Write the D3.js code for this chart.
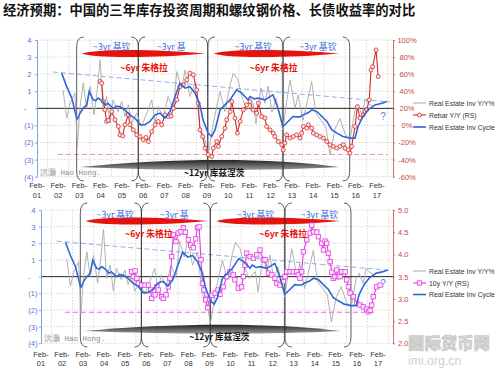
<!DOCTYPE html>
<html><head><meta charset="utf-8">
<script src="https://cdn.jsdelivr.net/npm/d3@7"></script>
<style>
body{margin:0;background:#fff;}
svg{display:block;}
</style></head><body>
<svg id="c" width="500" height="369"></svg>
<script>
const title = "经济预期：中国的三年库存投资周期和螺纹钢价格、长债收益率的对比";
const tickYears = d3.range(2001, 2018);
const yearLabels = tickYears.map(y => String(y).slice(2));
const leftTicks = [-4,-3,-2,-1,0,1,2,3,4];
const seriesNames = ["Real Estate Inv Y/Y%", "Real Estate Inv Cycle"];

// Real Estate Inv Cycle (blue) [year, value]
const invCycle = [[2002.245,2.06],[2002.48,1.27],[2002.72,0.6],[2002.95,-0.57],[2002.99,-0.62],[2003.1,-0.3],[2003.26,0.0],[2003.42,0.2],[2003.54,0.98],[2003.73,0.5],[2003.85,0.45],[2003.97,0.6],[2004.19,0.4],[2004.3,0.2],[2004.42,0.3],[2004.66,0.0],[2004.82,0.12],[2004.99,0.1],[2005.22,-0.1],[2005.46,-0.4],[2005.69,-0.57],[2005.93,-0.96],[2006.16,-0.96],[2006.4,-0.77],[2006.64,-0.38],[2006.87,-0.28],[2007.11,-0.57],[2007.34,-0.19],[2007.58,0.69],[2007.81,1.47],[2008.05,1.18],[2008.28,1.27],[2008.52,0.89],[2008.75,0.2],[2008.895,-0.67],[2009.13,-1.45],[2009.305,-1.65],[2009.46,-1.26],[2009.7,-0.09],[2009.93,0.2],[2010.17,0.5],[2010.48,1.08],[2010.72,0.89],[2011.01,0.5],[2011.11,0.69],[2011.3,0.55],[2011.48,0.6],[2011.81,0.5],[2012.05,0.69],[2012.19,0.79],[2012.42,0.0],[2012.66,-1.06],[2012.9,-0.77],[2013.13,-0.48],[2013.3,-0.5],[2013.46,-0.5],[2013.6,-0.38],[2013.84,-0.26],[2014.02,-0.09],[2014.26,-0.19],[2014.49,-0.48],[2014.73,-0.77],[2014.96,-1.26],[2015.2,-1.45],[2015.48,-1.65],[2015.81,-1.74],[2016.05,-1.74],[2016.19,-1.06],[2016.42,-0.48],[2016.66,-0.09],[2016.99,0.2],[2017.32,0.3],[2017.55,0.4]];

// Real Estate Inv Y/Y% (grey)
const invYoY = [[2002.31,1.08],[2002.48,-0.57],[2002.64,0.3],[2002.87,0.89],[2002.98,-2.23],[2003.11,0.1],[2003.26,1.47],[2003.42,0.0],[2003.58,1.27],[2003.77,-0.38],[2003.92,1.08],[2004.05,2.84],[2004.2,-0.1],[2004.36,0.69],[2004.52,-0.87],[2004.66,0.5],[2004.9,-0.19],[2005.07,0.4],[2005.22,-0.48],[2005.38,0.2],[2005.54,-0.87],[2005.77,-0.28],[2006.01,-1.06],[2006.25,-0.28],[2006.48,0.5],[2006.64,-0.87],[2006.79,0.1],[2007.03,-0.57],[2007.25,0.69],[2007.5,-0.09],[2007.66,2.15],[2007.89,1.18],[2008.05,2.25],[2008.28,0.69],[2008.52,1.47],[2008.75,-1.06],[2008.99,-1.84],[2009.13,-2.8],[2009.38,-0.87],[2009.54,0.1],[2009.7,0.98],[2009.93,-0.19],[2010.17,1.37],[2010.32,2.05],[2010.54,1.67],[2010.72,0.69],[2010.95,-0.09],[2011.26,0.3],[2011.39,-0.9],[2011.62,1.2],[2011.81,0.3],[2011.95,1.3],[2012.14,-0.2],[2012.33,0.6],[2012.66,-1.26],[2012.83,0.4],[2012.99,1.67],[2013.23,0.0],[2013.37,0.79],[2013.6,-0.7],[2013.84,0.6],[2014.01,1.57],[2014.21,-0.3],[2014.45,-0.7],[2014.68,-1.1],[2014.87,-2.72],[2015.11,-1.2],[2015.34,-0.6],[2015.58,-1.5],[2015.81,-1.84],[2016.05,-0.09],[2016.19,0.2],[2016.38,-0.4],[2016.52,0.5],[2016.66,0.3],[2016.89,0.1]];

// Rebar Y/Y % (RS, top panel)
const rebarYoY = [[2004.05,51.4],[2004.13,49.4],[2004.2,28],[2004.28,18.2],[2004.36,4.6],[2004.44,6],[2004.6,16.2],[2004.75,6.6],[2004.91,-1.2],[2004.99,-11],[2005.12,-12.2],[2005.22,0.8],[2005.38,12.4],[2005.46,0.8],[2005.615,-5.2],[2005.775,-11],[2005.93,-13],[2006.085,-16.8],[2006.21,-14],[2006.32,-18.8],[2006.48,-7.2],[2006.64,0.8],[2006.79,4.6],[2006.95,0.8],[2007.11,12.4],[2007.26,10.4],[2007.39,11],[2007.5,20],[2007.66,30],[2007.81,45.4],[2007.97,47.4],[2008.13,53.4],[2008.28,61.2],[2008.44,59.2],[2008.6,41.6],[2008.67,26],[2008.75,-5.2],[2008.88,-13],[2008.99,-26.6],[2009.14,-34.4],[2009.305,-36.4],[2009.38,-26.6],[2009.54,-18.8],[2009.615,-24.6],[2009.775,-13],[2009.93,-3.2],[2010.01,6.6],[2010.17,16.2],[2010.25,28],[2010.4,8.6],[2010.51,-9],[2010.64,4.6],[2010.79,18.2],[2010.95,24],[2011.11,28],[2011.25,18],[2011.42,14.4],[2011.5,26],[2011.66,10.4],[2011.81,8.6],[2011.89,-1.2],[2012.05,-5.2],[2012.2,-9],[2012.28,-13],[2012.44,-18.8],[2012.6,-22.6],[2012.67,-28.6],[2012.75,-20.6],[2012.83,-11],[2012.99,-14.8],[2013.14,-13],[2013.3,-11],[2013.46,-14.8],[2013.54,-9],[2013.62,-1.2],[2013.775,-3.2],[2013.85,0.8],[2014.01,-3.2],[2014.09,-9],[2014.245,-11],[2014.4,-13],[2014.56,-14.8],[2014.72,-18.8],[2014.87,-22.6],[2015.03,-24.6],[2015.19,-26.6],[2015.34,-24.6],[2015.5,-22.6],[2015.58,-26.6],[2015.73,-28.6],[2015.81,-32.4],[2015.89,-24.6],[2016.05,-1.2],[2016.16,22],[2016.28,8.6],[2016.44,12.4],[2016.52,16.2],[2016.6,18.2],[2016.72,30],[2016.8,65],[2016.88,68.8],[2017.04,88.4],[2017.14,57.2]];

// 10y yield (RS, bottom panel)
const yield10y = [[2005.39,3.61],[2005.47,3.5],[2005.55,3.63],[2005.63,3.46],[2005.7,3.35],[2005.865,3.31],[2006.02,3.31],[2006.18,3.31],[2006.29,3.2],[2006.34,3.01],[2006.5,3.09],[2006.58,3.27],[2006.65,3.2],[2006.815,3.05],[2006.89,3.01],[2007.02,3.09],[2007.13,3.27],[2007.21,3.46],[2007.29,3.95],[2007.365,4.44],[2007.49,4.29],[2007.6,4.48],[2007.73,4.51],[2007.84,4.6],[2007.94,4.5],[2008.08,4.33],[2008.19,4.21],[2008.315,4.15],[2008.42,4.35],[2008.51,4.6],[2008.59,4.62],[2008.68,3.88],[2008.75,3.35],[2008.82,3.2],[2008.9,2.98],[2008.99,2.8],[2009.08,3.0],[2009.2,3.08],[2009.35,3.13],[2009.49,3.2],[2009.58,3.1],[2009.74,3.27],[2009.9,3.5],[2010.06,3.61],[2010.21,3.54],[2010.29,3.43],[2010.45,3.24],[2010.61,3.27],[2010.69,3.5],[2010.77,3.76],[2010.85,4.03],[2011.01,3.95],[2011.165,3.91],[2011.33,3.99],[2011.48,4.1],[2011.64,3.88],[2011.72,3.88],[2011.875,3.58],[2012.04,3.54],[2012.19,3.46],[2012.28,3.35],[2012.43,3.31],[2012.59,3.39],[2012.67,3.5],[2012.75,3.61],[2012.91,3.61],[2013.06,3.61],[2013.225,3.61],[2013.3,3.54],[2013.38,3.46],[2013.46,3.61],[2013.54,4.06],[2013.7,4.33],[2013.855,4.48],[2013.94,4.66],[2014.02,4.51],[2014.18,4.5],[2014.25,4.4],[2014.41,4.25],[2014.49,4.1],[2014.57,4.3],[2014.65,4.25],[2014.73,4.03],[2014.81,3.84],[2014.89,3.6],[2014.96,3.46],[2015.04,3.5],[2015.12,3.65],[2015.2,3.5],[2015.28,3.5],[2015.36,3.61],[2015.52,3.61],[2015.6,3.43],[2015.68,3.27],[2015.76,3.13],[2015.91,3.05],[2016.07,2.9],[2016.23,2.86],[2016.39,2.82],[2016.55,2.77],[2016.63,2.71],[2016.71,2.74],[2016.785,2.86],[2016.86,3.05],[2017.02,3.27],[2017.18,3.31]];

// reference lines
const trendLine = [[2001.83,2.13],[2017.7,0.37]];
const rebarFloor = [[2002.07,-34],[2017.6,-34]];
const yieldFloor = [[2002.22,2.7],[2017.04,2.7]];

// cycle annotations (years)
const bracketYears = [2002.95, 2005.85, 2009.12, 2012.66, 2015.8];
const kitchinStarts = [2003.72, 2006.73, 2010.38, 2013.42];
const kitchinLabels = ["~3yr 基钦", "~3yr 基", "~3yr 基钦", "~3yr 基钦"];
const juglarSpans = [[2003.2, 2009.0], [2009.4, 2015.3]];
const kuznetsSpan = [2003.1, 2015.3];

const svg = d3.select("#c");
const LAT = '"Liberation Sans", Arial, sans-serif';
const CJK = '"Noto Sans CJK SC", sans-serif';

const defs = svg.append("defs");
const grad = defs.append("linearGradient").attr("id","gl").attr("x1",0).attr("y1",0).attr("x2",0).attr("y2",1);
grad.append("stop").attr("offset","0%").attr("stop-color","#222");
grad.append("stop").attr("offset","100%").attr("stop-color","#9a9a9a");

svg.append("text").attr("x",3).attr("y",15).attr("font-family",CJK).attr("font-weight",700)
  .attr("font-size",13.3).attr("fill","#111").text(title);

const panels = [
 {l:37, r:393, t:40, b:176.7, xr:[37,377], rDom:[-60,100], rTicks:d3.range(-60,101,20), rFmt:d=>d+"%", rAnchor:"middle", rDx:12,
  data:rebarYoY, color:"#d42a2a", marker:"circle", floor:rebarFloor, floorColor:"#e59a9a", febY:188, yrY:198,
  legY:[103,115,127], legLabel:"Rebar Y/Y (RS)", juglarX:[2005.0, 2011.1], juglarY:71, kitY:50, lensY:53.5,
  grayY:167, grayUp:9.5, grayDn:4, kzY:176, brT:37, brB:181, qY:120, authY:175, kzX:2009.42},
 {l:41, r:393, t:210, b:343.3, xr:[41,378], rDom:[2,5], rTicks:[2,2.5,3,3.5,4,4.5,5], rFmt:d3.format(".1f"), rAnchor:"start", rDx:3,
  data:yield10y, color:"#e03ee0", marker:"square", floor:yieldFloor, floorColor:"#e56ae5", febY:357, yrY:366,
  legY:[271,283,294.5], legLabel:"10y Y/Y (RS)", juglarX:[2005.07, 2011.45], juglarY:237, kitY:217.5, lensY:221,
  grayY:331, grayUp:8.5, grayDn:3.5, kzY:340, brT:203, brB:347, qY:287, authY:341, kzX:2009.55}
];

panels.forEach(p => {
  const g = svg.append("g");
  const x = d3.scaleLinear().domain([2001+1/12, 2017+1/12]).range(p.xr);
  const yL = d3.scaleLinear().domain([-4,4]).range([p.b, p.t]);
  const yR = d3.scaleLinear().domain(p.rDom).range([p.b, p.t]);

  // grid
  g.selectAll(".hg").data(leftTicks.filter(d=>d!==0)).join("line")
    .attr("x1",p.l).attr("x2",p.r).attr("y1",d=>yL(d)).attr("y2",d=>yL(d))
    .attr("stroke","#c8c8c8").attr("stroke-width",0.7).attr("stroke-dasharray","1.5,1.5");
  g.selectAll(".vg").data(tickYears.map(y=>y+1/12+0.5)).join("line")
    .attr("x1",d=>x(d)).attr("x2",d=>x(d)).attr("y1",p.t).attr("y2",p.b)
    .attr("stroke","#c8c8c8").attr("stroke-width",0.7).attr("stroke-dasharray","1.5,1.5");

  // gray Kuznets lens
  const gx0 = x(kuznetsSpan[0]), gx1 = x(kuznetsSpan[1]), gw = gx1-gx0;
  g.append("path").attr("d",`M${gx0},${p.grayY} C${gx0+gw*0.35},${p.grayY-p.grayUp} ${gx0+gw*0.75},${p.grayY-p.grayUp} ${gx1},${p.grayY} C${gx0+gw*0.75},${p.grayY+p.grayDn} ${gx0+gw*0.35},${p.grayY+p.grayDn} ${gx0},${p.grayY}Z`)
    .attr("fill","url(#gl)");

  // red Juglar lenses
  juglarSpans.forEach(s => {
    const a = x(s[0]), b = x(s[1]), w = b-a, h = 4.8;
    g.append("path").attr("d",`M${a},${p.lensY} C${a+w*0.1},${p.lensY-h} ${a+w*0.6},${p.lensY-h} ${b},${p.lensY} C${a+w*0.6},${p.lensY+h} ${a+w*0.1},${p.lensY+h} ${a},${p.lensY}Z`)
      .attr("fill","#e8120c");
  });

  // zero line
  g.append("line").attr("x1",p.l).attr("x2",p.r).attr("y1",yL(0)).attr("y2",yL(0)).attr("stroke","#222").attr("stroke-width",1);

  // reference dashed lines
  const lineL = d3.line().x(d=>x(d[0])).y(d=>yL(d[1]));
  const lineR = d3.line().x(d=>x(d[0])).y(d=>yR(d[1]));
  g.append("path").attr("d",lineL(trendLine)).attr("fill","none").attr("stroke","#8fb0ea").attr("stroke-width",1).attr("stroke-dasharray","5,3");
  g.append("path").attr("d",lineR(p.floor)).attr("fill","none").attr("stroke",p.floorColor).attr("stroke-width",1.1).attr("stroke-dasharray","5,3");

  // brackets
  for (let i=0;i<bracketYears.length-1;i++){
    const a = x(bracketYears[i]), b = x(bracketYears[i+1]), r = 7, vy = 10;
    const d = `M${a+r},${p.brT} Q${a},${p.brT} ${a},${p.brT+vy} L${a},${p.brB-vy} Q${a},${p.brB} ${a+r},${p.brB}` +
              ` M${b-r},${p.brT} Q${b},${p.brT} ${b},${p.brT+vy} L${b},${p.brB-vy} Q${b},${p.brB} ${b-r},${p.brB}`;
    g.append("path").attr("d",d).attr("fill","none").attr("stroke","#333").attr("stroke-width",0.8);
  }

  // series
  g.append("path").attr("d",lineL(invYoY)).attr("fill","none").attr("stroke","#a9a9a9").attr("stroke-width",0.9);
  g.append("path").attr("d",lineR(p.data)).attr("fill","none").attr("stroke",p.color).attr("stroke-width",1.1);
  if (p.marker==="circle") {
    g.selectAll(".mk").data(p.data).join("circle").attr("cx",d=>x(d[0])).attr("cy",d=>yR(d[1])).attr("r",2)
      .attr("fill","#fbe3e3").attr("stroke",p.color).attr("stroke-width",0.8);
  } else {
    g.selectAll(".mk").data(p.data).join("rect").attr("x",d=>x(d[0])-2.2).attr("y",d=>yR(d[1])-2.2).attr("width",4.4).attr("height",4.4)
      .attr("fill","#fde8fd").attr("stroke",p.color).attr("stroke-width",0.8);
  }
  g.append("path").attr("d",lineL(invCycle)).attr("fill","none").attr("stroke","#2f66d6").attr("stroke-width",1.6);

  // annotation texts
  kitchinStarts.forEach((s,i) => {
    g.append("text").attr("x",x(s)).attr("y",p.kitY).attr("font-family",CJK).attr("font-size",8.8).attr("fill","#3a6ad8").text(kitchinLabels[i]);
  });
  p.juglarX.forEach(s => {
    g.append("text").attr("x",x(s)).attr("y",p.juglarY).attr("font-family",CJK).attr("font-weight",700).attr("font-size",8.8).attr("fill","#e8120c").text("~6yr 朱格拉");
  });
  g.append("text").attr("x",x(p.kzX)).attr("y",p.kzY).attr("text-anchor","middle").attr("font-family",CJK).attr("font-weight",700).attr("font-size",8.6).attr("fill","#111").text("~12yr 库兹涅茨");
  g.append("text").attr("x",p.l+3).attr("y",p.authY).attr("font-family",'"Liberation Mono", monospace').attr("font-size",7.5).attr("fill","#8a8a8a").text("洪灏 Hao Hong.");
  g.append("text").attr("x",383).attr("y",p.qY).attr("text-anchor","middle").attr("font-family",LAT).attr("font-size",10).attr("fill","#5a86da").text("?");

  // axes
  const axL = g.append("g").attr("transform",`translate(${p.l},0)`)
    .call(d3.axisLeft(yL).tickValues(leftTicks).tickSizeInner(2).tickSizeOuter(0).tickPadding(1.5)
      .tickFormat(d => d===0 ? "-" : d<0 ? `(${-d})` : String(d)));
  axL.select(".domain").attr("stroke","#7fa3e0");
  axL.selectAll(".tick line").attr("stroke","#7fa3e0");
  axL.selectAll("text").attr("font-family",LAT).attr("font-size",7.5).attr("fill","#4a78d0")
    .attr("dx",d => d===0 ? -7 : d>0 ? -2.2 : 0);

  const axR = g.append("g").attr("transform",`translate(${p.r},0)`)
    .call(d3.axisRight(yR).tickValues(p.rTicks).tickSizeInner(2).tickSizeOuter(0).tickPadding(p.rDx).tickFormat(p.rFmt));
  axR.select(".domain").attr("stroke","#d86a6a");
  axR.selectAll(".tick line").attr("stroke","#d86a6a");
  axR.selectAll("text").attr("font-family",LAT).attr("font-size",7.5).attr("fill","#c84848").attr("text-anchor",p.rAnchor);

  // x labels
  const xt = g.append("g");
  tickYears.forEach((yr,i) => {
    const cx = x(yr+1/12);
    xt.append("text").attr("x",cx).attr("y",p.febY).attr("text-anchor","middle").attr("font-family",LAT).attr("font-size",7.5).attr("fill","#333").text("Feb-");
    xt.append("text").attr("x",cx).attr("y",p.yrY).attr("text-anchor","middle").attr("font-family",LAT).attr("font-size",7.5).attr("fill","#333").text(yearLabels[i]);
  });

  // legend
  const lg = g.append("g").attr("font-family",LAT).attr("font-size",6.9).attr("fill","#333");
  const items = [{n:seriesNames[0], c:"#a9a9a9", w:1},{n:p.legLabel, c:p.color, w:1.1, m:true},{n:seriesNames[1], c:"#2f66d6", w:1.6}];
  items.forEach((it,i) => {
    const yy = p.legY[i];
    lg.append("line").attr("x1",413).attr("x2",426).attr("y1",yy).attr("y2",yy).attr("stroke",it.c).attr("stroke-width",it.w);
    if (it.m) {
      if (p.marker==="circle") lg.append("circle").attr("cx",419.5).attr("cy",yy).attr("r",2).attr("fill","#fbe3e3").attr("stroke",it.c).attr("stroke-width",0.8);
      else lg.append("rect").attr("x",417.3).attr("y",yy-2.2).attr("width",4.4).attr("height",4.4).attr("fill","#fde8fd").attr("stroke",it.c).attr("stroke-width",0.8);
    }
    lg.append("text").attr("x",429).attr("y",yy+2.5).text(it.n);
  });
});

// watermark
svg.append("text").attr("x",408).attr("y",349).attr("font-family",CJK).attr("font-weight",900).attr("font-size",16.4)
  .attr("fill","#d4d4d4").attr("stroke","#bdbdbd").attr("stroke-width",0.5).text("国际货币网");
svg.append("text").attr("x",408).attr("y",365).attr("font-family",LAT).attr("font-size",12.3).attr("fill","#d0d0d0").text("imi.org.cn");
</script>
</body></html>
